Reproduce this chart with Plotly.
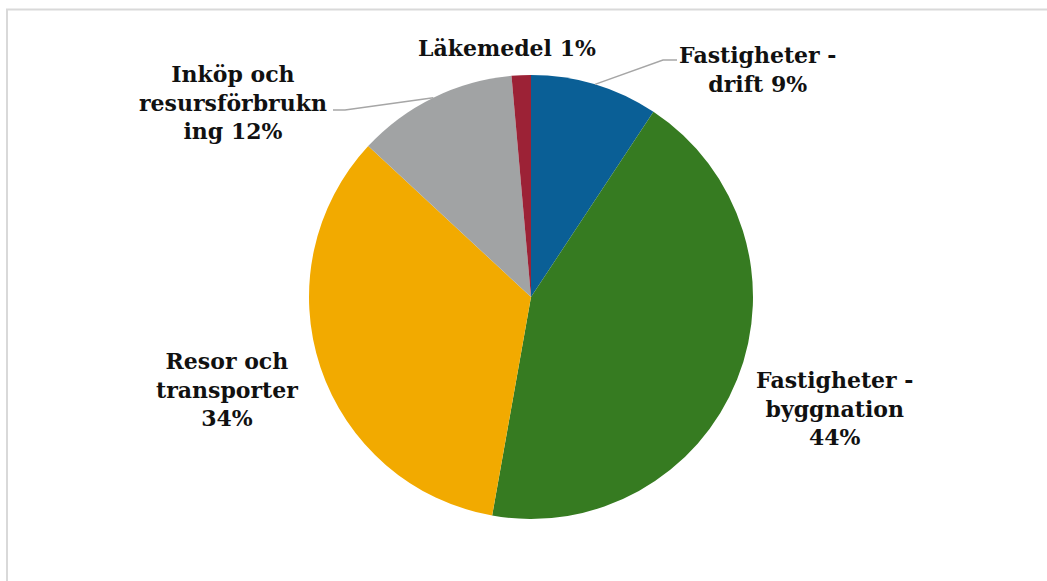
import math
import plotly.graph_objects as go

# data
categories = ['Fastigheter - drift', 'Fastigheter - byggnation', 'Resor och transporter',
              'Inköp och resursförbrukning', 'Läkemedel']
values = [9.3, 43.5, 34.1, 11.7, 1.4]
label_text = ['Fastigheter -<br>drift', 'Fastigheter -<br>byggnation<br>', 'Resor och<br>transporter<br>',
              'Inköp och<br>resursförbrukn<br>ing', 'Läkemedel']
colors = ['#0A5F96', '#367B21', '#F2AA00', '#A1A3A4', '#9C2236']

W, H = 1047, 581
cx, cy, R = 531, 297, 222   # pie centre / radius in px

# label placement (px) and leader line elbows
label_pos = [(758, 70), (835, 408), (227, 389), (233, 103), (507, 48)]
leader = {0: [(663, 60), (677, 60)], 3: [(345, 110), (333, 110)]}

def px(x, y):
    return x / W, 1 - y / H

fig = go.Figure(go.Pie(
    labels=categories, values=values, sort=False, direction='clockwise', rotation=0,
    marker=dict(colors=colors, line=dict(width=0)),
    textinfo='none', hoverinfo='label+percent', showlegend=False,
    domain=dict(x=[(cx - R) / W, (cx + R) / W], y=[(H - cy - R) / H, (H - cy + R) / H]),
))

total = sum(values)
cum = 0
shapes = [dict(type='rect', xref='paper', yref='paper', x0=7 / W, x1=1.05, y0=-0.05, y1=1 - 9.5 / H,
               line=dict(color='#D9D9D9', width=2), fillcolor='rgba(0,0,0,0)', layer='below')]
annotations = []
for i, v in enumerate(values):
    mid = (cum + v / 2) / total * 2 * math.pi
    cum += v
    pct = f'{round(v / total * 100)}%'
    txt = label_text[i]
    txt = txt + pct if txt.endswith('<br>') else txt + ' ' + pct
    lx, ly = label_pos[i]
    x, y = px(lx, ly)
    annotations.append(dict(text=f'<b>{txt}</b>', x=x, y=y, xref='paper', yref='paper',
                            showarrow=False, xanchor='center', yanchor='middle', align='center',
                            font=dict(family='DejaVu Serif', size=22, color='#111111')))
    if i in leader:
        sx, sy = cx + R * math.sin(mid), cy - R * math.cos(mid)
        pts = [(sx, sy)] + leader[i]
        path = 'M ' + ' L '.join(f'{px(a, b)[0]},{px(a, b)[1]}' for a, b in pts)
        shapes.append(dict(type='path', xref='paper', yref='paper', path=path,
                           line=dict(color='#A6A6A6', width=1.5)))

fig.update_layout(width=W, height=H, margin=dict(l=0, r=0, t=0, b=0),
                  paper_bgcolor='white', plot_bgcolor='white',
                  shapes=shapes, annotations=annotations)
fig.write_html('out.html', config={'displayModeBar': False},
               post_script="document.body.style.margin='0';document.body.style.overflow='hidden';")
